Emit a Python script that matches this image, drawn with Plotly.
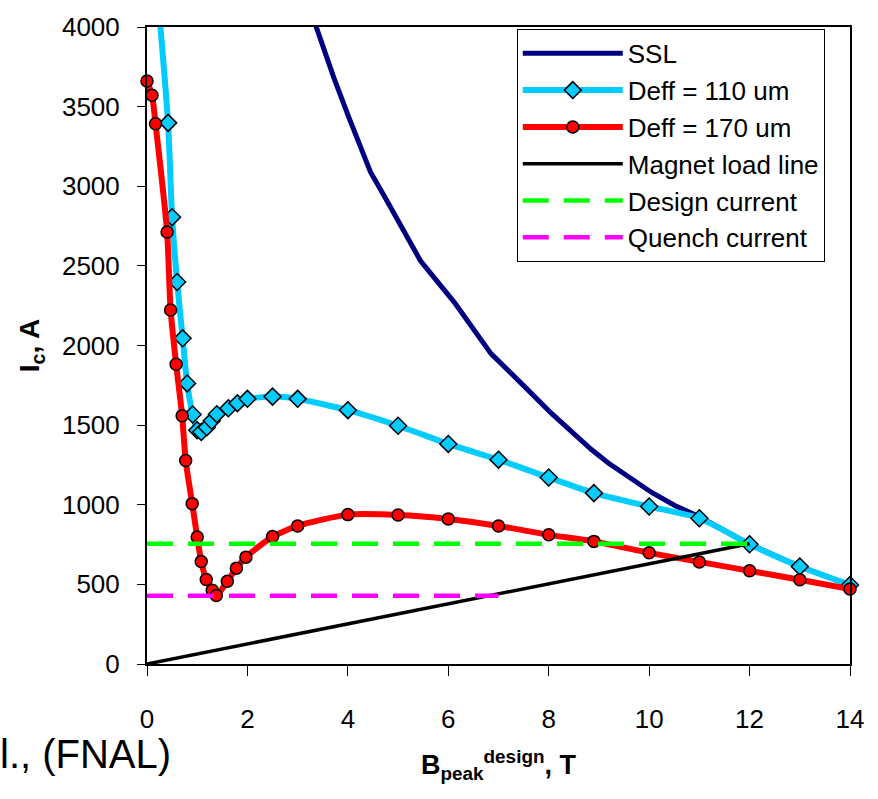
import plotly.graph_objects as go

# ---------------- data ----------------
ssl_x = [3.25, 3.72, 4.02, 4.45, 4.75, 5.08, 5.45, 6.12, 6.85, 7.52, 8.05, 8.85, 9.18, 10.05, 10.52, 11, 12, 13, 14]
ssl_y = [4110, 3682, 3433, 3090, 2925, 2738, 2530, 2271, 1949, 1742, 1575, 1347, 1264, 1077, 994, 925, 752, 612, 496]

d110_x = [0.2, 0.42, 0.5, 0.6, 0.71, 0.8, 0.91, 1.0, 1.08, 1.19, 1.29, 1.39, 1.62, 1.8, 2.0, 2.5, 3, 4, 5, 6, 7, 8, 8.9, 10, 11, 12, 13, 14]
d110_y = [4250, 3398, 2806, 2399, 2045, 1762, 1567, 1468, 1457, 1486, 1527, 1569, 1606, 1638, 1665, 1679, 1665, 1594, 1496, 1382, 1283, 1171, 1073, 989, 915, 752, 612, 496]

d170_x = [0, 0.1, 0.17, 0.4, 0.47, 0.58, 0.7, 0.77, 0.9, 1.0, 1.08, 1.18, 1.3, 1.38, 1.6, 1.78, 1.97, 2.5, 3, 4, 5, 6, 7, 8, 8.9, 10, 11, 12, 13, 14]
d170_y = [3661, 3572, 3392, 2713, 2223, 1882, 1559, 1278, 1007, 797, 643, 531, 463, 430, 519, 602, 671, 800, 867, 938, 936, 911, 867, 811, 770, 698, 641, 585, 529, 471]

load_x = [0, 12]
load_y = [0, 755]

design_x = [0, 12]
design_y = [755, 755]

quench_x = [0, 7]
quench_y = [428, 428]

x_ticks = [0, 2, 4, 6, 8, 10, 12, 14]
y_ticks = [0, 500, 1000, 1500, 2000, 2500, 3000, 3500, 4000]

FONT = "Liberation Sans, Arial, sans-serif"

fig = go.Figure()
fig.add_trace(go.Scatter(x=ssl_x, y=ssl_y, mode="lines", name="SSL",
                         line=dict(color="#000080", width=5)))
fig.add_trace(go.Scatter(x=d110_x, y=d110_y, mode="lines+markers", name="Deff = 110 um",
                         line=dict(color="#00CCFF", width=6, shape="spline", smoothing=0.6),
                         marker=dict(symbol="diamond", size=13, color="#00CCFF",
                                     line=dict(color="black", width=1.5)),
                         cliponaxis=False))
fig.add_trace(go.Scatter(x=d170_x, y=d170_y, mode="lines+markers", name="Deff = 170 um",
                         line=dict(color="#FF0000", width=6, shape="spline", smoothing=0.6),
                         marker=dict(symbol="circle", size=12, color="#FF0000",
                                     line=dict(color="black", width=1.5)),
                         cliponaxis=False))
fig.add_trace(go.Scatter(x=load_x, y=load_y, mode="lines", name="Magnet load line",
                         line=dict(color="black", width=3.5)))
fig.add_trace(go.Scatter(x=design_x, y=design_y, mode="lines", name="Design current",
                         line=dict(color="#00FF00", width=4.5, dash="26px,15px")))
fig.add_trace(go.Scatter(x=quench_x, y=quench_y, mode="lines", name="Quench current",
                         line=dict(color="#FF00FF", width=4.5, dash="26px,15px")))

fig.update_layout(
    width=878, height=799,
    margin=dict(l=147, r=28, t=20, b=135),
    paper_bgcolor="white", plot_bgcolor="white",
    font=dict(family=FONT, color="black"),
    showlegend=True,
    legend=dict(x=0.526, y=0.997, xanchor="left", yanchor="top",
                bgcolor="white", bordercolor="black", borderwidth=1,
                font=dict(family=FONT, size=26, color="black"),
                itemwidth=100, tracegroupgap=0),
    xaxis=dict(range=[0, 14], tickvals=x_ticks, ticktext=[str(v) for v in x_ticks],
               showline=True, linecolor="black", linewidth=2, mirror=True,
               ticks="outside", ticklen=10, tickcolor="black", tickwidth=1,
               showgrid=False, zeroline=False,
               tickfont=dict(family=FONT, size=26, color="black"),
               ticklabelstandoff=21,
               title=dict(text="<b>B<sub>peak</sub><sup>design</sup>, T</b>",
                          font=dict(family=FONT, size=27, color="black"), standoff=22)),
    yaxis=dict(range=[0, 4000], tickvals=y_ticks, ticktext=[str(v) for v in y_ticks],
               showline=True, linecolor="black", linewidth=2, mirror=True,
               ticks="outside", ticklen=8, tickcolor="black", tickwidth=1,
               showgrid=False, zeroline=False,
               tickfont=dict(family=FONT, size=26, color="black"),
               ticklabelstandoff=12,
               title=dict(text="<b>I<sub>c</sub>, A</b>",
                          font=dict(family=FONT, size=28, color="black"), standoff=14)),
)

fig.add_annotation(text="l., (FNAL)", xref="paper", yref="paper",
                   x=-0.212, y=-0.1414, xanchor="left", yanchor="middle",
                   showarrow=False, font=dict(family=FONT, size=40, color="black"))

fig.write_html("out.html")
